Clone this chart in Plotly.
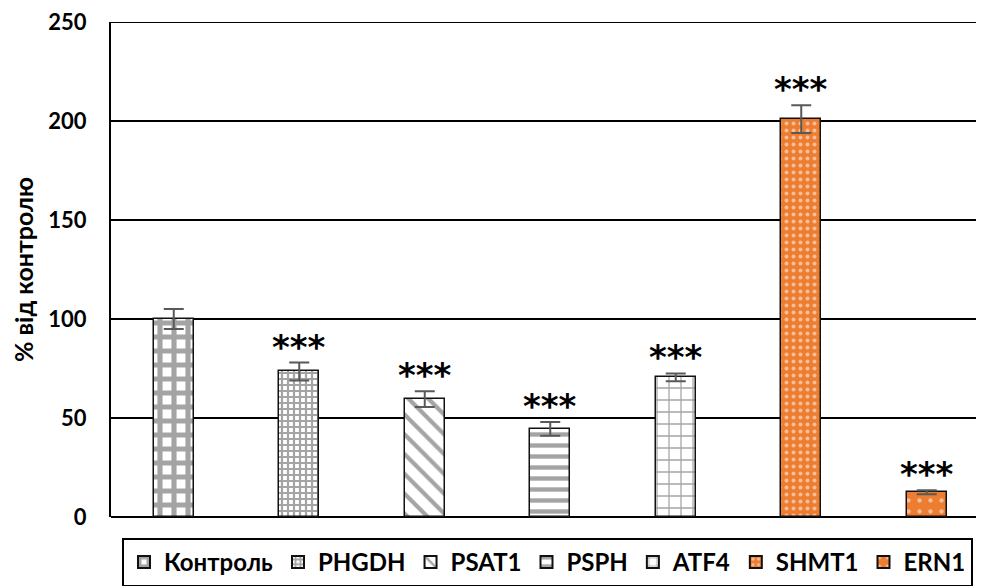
import plotly.graph_objects as go

categories = ["Контроль", "PHGDH", "PSAT1", "PSPH", "ATF4", "SHMT1", "ERN1"]
values = [100, 73.5, 59.5, 44.5, 70.5, 201, 12.5]
errors = [5, 4.5, 4, 3.5, 2, 7, 1]
stars = ["", "***", "***", "***", "***", "***", "***"]
y_ticks = [0, 50, 100, 150, 200, 250]

colors = ["white", "white", "white", "white", "white", "#ED7D31", "#ED7D31"]
pat_shape = ["+", "+", "\\", "-", "+", ".", "."]
pat_fg = ["#4a4a4a", "#4a4a4a", "#4a4a4a", "#4a4a4a", "#4a4a4a", "white", "white"]
pat_size = [14, 6, 14, 11, 12, 7, 11]
pat_solid = [0.6, 0.6, 0.3, 0.4, 0.2, 0.25, 0.12]

fig = go.Figure()
for i, c in enumerate(categories):
    fig.add_trace(go.Bar(
        x=[i], y=[values[i]], name=c, width=0.32,
        marker=dict(color=colors[i], line=dict(color="#111111", width=1.5),
                    pattern=dict(shape=pat_shape[i], fgcolor=pat_fg[i], bgcolor=colors[i],
                                 size=pat_size[i], solidity=pat_solid[i])),
        error_y=dict(type="data", array=[errors[i]], color="#595959", thickness=2, width=10),
    ))
    if stars[i]:
        fig.add_annotation(x=i, y=values[i] + errors[i], text=stars[i], showarrow=False,
                           yanchor="bottom", yshift=-6,
                           font=dict(family="DejaVu Sans", size=34, color="black", weight="bold"))

fig.add_shape(type="line", xref="paper", yref="y", x0=0, x1=1, y0=250, y1=250,
              line=dict(color="black", width=2))

fig.update_layout(
    width=984, height=586,
    margin=dict(l=103, r=0, t=14, b=77),
    plot_bgcolor="white", paper_bgcolor="white",
    font=dict(family="Lato", size=18, color="black"),
    showlegend=True,
    bargap=0,
    legend=dict(orientation="h", x=0.0125, xanchor="left", y=-0.042, yanchor="top",
                bordercolor="black", borderwidth=2, tracegroupgap=0,
                font=dict(family="Lato", size=24, color="black", weight="bold"),
                itemsizing="constant", traceorder="normal"),
)
fig.update_xaxes(range=[-0.5, 6.52], showticklabels=False, showgrid=False,
                 zeroline=False, showline=False, ticks="")
fig.update_yaxes(range=[0, 250], tickvals=y_ticks, showgrid=True, gridcolor="black", gridwidth=2,
                 zeroline=True, zerolinecolor="black", zerolinewidth=2,
                 showline=True, linecolor="black", linewidth=2, ticks="",
                 ticklabelstandoff=18, ticklabeloverflow="allow", automargin=False,
                 tickfont=dict(family="Lato", size=22, color="black", weight="bold"),
                 title=dict(text="% від контролю", standoff=8,
                            font=dict(family="Lato", size=25, color="black", weight="bold")))

fig.write_html("out.html")
